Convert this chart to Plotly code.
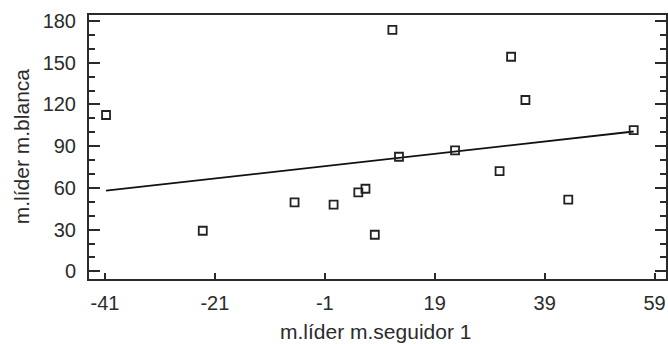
import numpy as np
import plotly.graph_objects as go

# data
x_vals = [-40.8, -23.2, -6.5, 0.6, 5.1, 6.4, 8.1, 11.3, 12.5, 22.7, 30.8, 32.9, 35.5, 43.3, 55.2]
y_vals = [112.4, 29.2, 49.6, 47.9, 56.8, 59.4, 26.3, 173.6, 82.4, 87.0, 72.1, 154.3, 123.2, 51.5, 101.6]
x_ticks = [-41, -21, -1, 19, 39, 59]
y_ticks = [0, 30, 60, 90, 120, 150, 180]
x_title = "m.líder m.seguidor 1"
y_title = "m.líder m.blanca"

xa = np.array(x_vals)
ya = np.array(y_vals)
slope, intercept = np.polyfit(xa, ya, 1)
fit_x = np.array([xa.min(), xa.max()])
fit_y = slope * fit_x + intercept

AX = "#2a2a2a"
TXT = "#2b2b2b"
FONT = "Liberation Sans, Arial, Helvetica, sans-serif"

fig = go.Figure()
fig.add_trace(go.Scatter(x=fit_x, y=fit_y, mode="lines",
                         line=dict(color="#111111", width=1.8), hoverinfo="skip"))
fig.add_trace(go.Scatter(x=x_vals, y=y_vals, mode="markers",
                         marker=dict(symbol="square-open", size=8,
                                     color="#222222", line=dict(width=1.8, color="#222222"))))

fig.update_layout(
    width=668, height=344,
    margin=dict(l=89, r=0, t=15, b=65),
    paper_bgcolor="white", plot_bgcolor="white",
    showlegend=False,
    font=dict(family=FONT, size=20, color=TXT),
    xaxis=dict(range=[-43.9, 61.08], tickvals=x_ticks, ticktext=[str(v) for v in x_ticks],
               showgrid=False, zeroline=False, showline=True, linecolor=AX, linewidth=2,
               mirror=True, ticks="inside", ticklen=6, tickwidth=2, tickcolor=AX,
               ticklabelstandoff=5),
    yaxis=dict(range=[-5.5, 184.3], tickvals=y_ticks, ticktext=[str(v) for v in y_ticks],
               showgrid=False, zeroline=False, showline=True, linecolor=AX, linewidth=2,
               mirror="ticks", ticks="inside", ticklen=11, tickwidth=2, tickcolor=AX,
               ticklabelstandoff=7,
               minor=dict(dtick=10, tick0=0, ticks="inside", ticklen=6, tickwidth=2,
                          tickcolor=AX, showgrid=False)),
    annotations=[
        dict(text=x_title, xref="paper", yref="paper", x=(376 - 89) / 579, y=(279 - 331) / 264,
             xanchor="center", yanchor="middle", showarrow=False,
             font=dict(family=FONT, size=21, color=TXT)),
        dict(text=y_title, xref="paper", yref="paper", x=(21 - 89) / 579, y=(279 - 146) / 264,
             xanchor="center", yanchor="middle", textangle=-90, showarrow=False,
             font=dict(family=FONT, size=21, color=TXT)),
    ],
)

fig.write_html("out.html", config={"displayModeBar": False},
               post_script="document.body.style.margin='0';document.body.style.padding='0';document.body.style.overflow='hidden';")
